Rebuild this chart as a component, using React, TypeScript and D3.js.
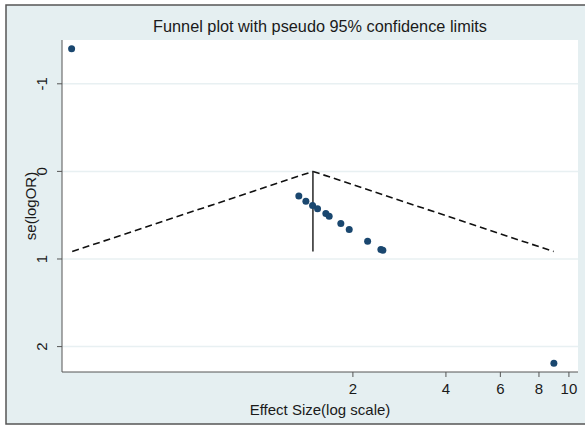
import React from "react";
import * as d3 from "d3";

// study estimates
const effectSize = [0.246, 1.337, 1.409, 1.481, 1.537, 1.635, 1.676, 1.828, 1.946, 2.232, 2.464, 2.5, 8.94];
const seLogOR = [-1.4, 0.282, 0.34, 0.389, 0.426, 0.48, 0.511, 0.594, 0.663, 0.797, 0.891, 0.9, 2.19];

const pooledOR = 1.485;
const seMax = 0.915;
const z = 1.96;

const xTicks = [2, 4, 6, 8, 10];
const yTicks = [-1, 0, 1, 2];

const title = "Funnel plot with pseudo 95% confidence limits";
const xTitle = "Effect Size(log scale)";
const yTitle = "se(logOR)";

const W = 585;
const H = 427;
const plot = { left: 62, right: 578, top: 40, bottom: 372 };

const FONT = "Arial, 'Liberation Sans', Helvetica, sans-serif";
const BG = "#e5eff1";
const GRID = "#e8f0f2";
const NAVY = "#1a476f";
const INK = "#1a1a1a";

export default function App() {
  const x = d3.scaleLog().domain([0.229, 10.7]).range([plot.left, plot.right]);
  const y = d3.scaleLinear().domain([-1.5, 2.29]).range([plot.top, plot.bottom]);

  const lnP = Math.log(pooledOR);
  const leftLimit: [number, number][] = [
    [Math.exp(lnP - z * seMax), seMax],
    [pooledOR, 0],
  ];
  const rightLimit: [number, number][] = [
    [pooledOR, 0],
    [Math.exp(lnP + z * seMax), seMax],
  ];
  const line = d3
    .line<[number, number]>()
    .x((d) => x(d[0]))
    .y((d) => y(d[1]));

  return (
    <svg
      width={W}
      height={H}
      style={{ position: "fixed", left: 0, top: 0, display: "block" }}
      fontFamily={FONT}
    >
      <rect x={0} y={0} width={W} height={H} fill="#ffffff" />
      <rect x={6} y={5} width={W + 10} height={419} fill={BG} stroke="#555" strokeWidth={1.5} />

      {/* plot region */}
      <rect
        x={plot.left}
        y={plot.top}
        width={plot.right - plot.left}
        height={plot.bottom - plot.top}
        fill="#ffffff"
      />

      {/* gridlines */}
      {yTicks.map((t) => (
        <line
          key={"g" + t}
          x1={plot.left}
          x2={plot.right}
          y1={y(t)}
          y2={y(t)}
          stroke={GRID}
          strokeWidth={1.5}
        />
      ))}

      {/* funnel */}
      <path d={line(leftLimit) || ""} fill="none" stroke="#111" strokeWidth={1.6} strokeDasharray="7,4" />
      <path d={line(rightLimit) || ""} fill="none" stroke="#111" strokeWidth={1.6} strokeDasharray="7,4" />
      <line
        x1={x(pooledOR)}
        x2={x(pooledOR)}
        y1={y(0)}
        y2={y(seMax)}
        stroke="#333"
        strokeWidth={1.6}
      />

      {/* studies */}
      {effectSize.map((es, i) => (
        <circle key={i} cx={x(es)} cy={y(seLogOR[i])} r={3.5} fill={NAVY} />
      ))}

      {/* axes */}
      <line x1={plot.left} x2={plot.left} y1={plot.top} y2={plot.bottom} stroke="#555" strokeWidth={1} />
      <line x1={plot.left} x2={plot.right} y1={plot.bottom} y2={plot.bottom} stroke="#555" strokeWidth={1} />

      {yTicks.map((t) => (
        <g key={"y" + t}>
          <line x1={plot.left - 5} x2={plot.left} y1={y(t)} y2={y(t)} stroke="#555" />
          <text
            transform={`translate(${47}, ${y(t)}) rotate(-90)`}
            textAnchor="middle"
            fontSize={15}
            fill={INK}
          >
            {t}
          </text>
        </g>
      ))}

      {xTicks.map((t) => (
        <g key={"x" + t}>
          <line x1={x(t)} x2={x(t)} y1={plot.bottom} y2={plot.bottom + 5} stroke="#555" />
          <text x={x(t)} y={394} textAnchor="middle" fontSize={15} fill={INK}>
            {t}
          </text>
        </g>
      ))}

      <text x={(plot.left + plot.right) / 2} y={415} textAnchor="middle" fontSize={15} fill={INK}>
        {xTitle}
      </text>
      <text
        transform={`translate(${36}, ${(plot.top + plot.bottom) / 2}) rotate(-90)`}
        textAnchor="middle"
        fontSize={15}
        fill={INK}
      >
        {yTitle}
      </text>

      <text x={(plot.left + plot.right) / 2} y={32} textAnchor="middle" fontSize={16.3} fill={INK}>
        {title}
      </text>
    </svg>
  );
}
